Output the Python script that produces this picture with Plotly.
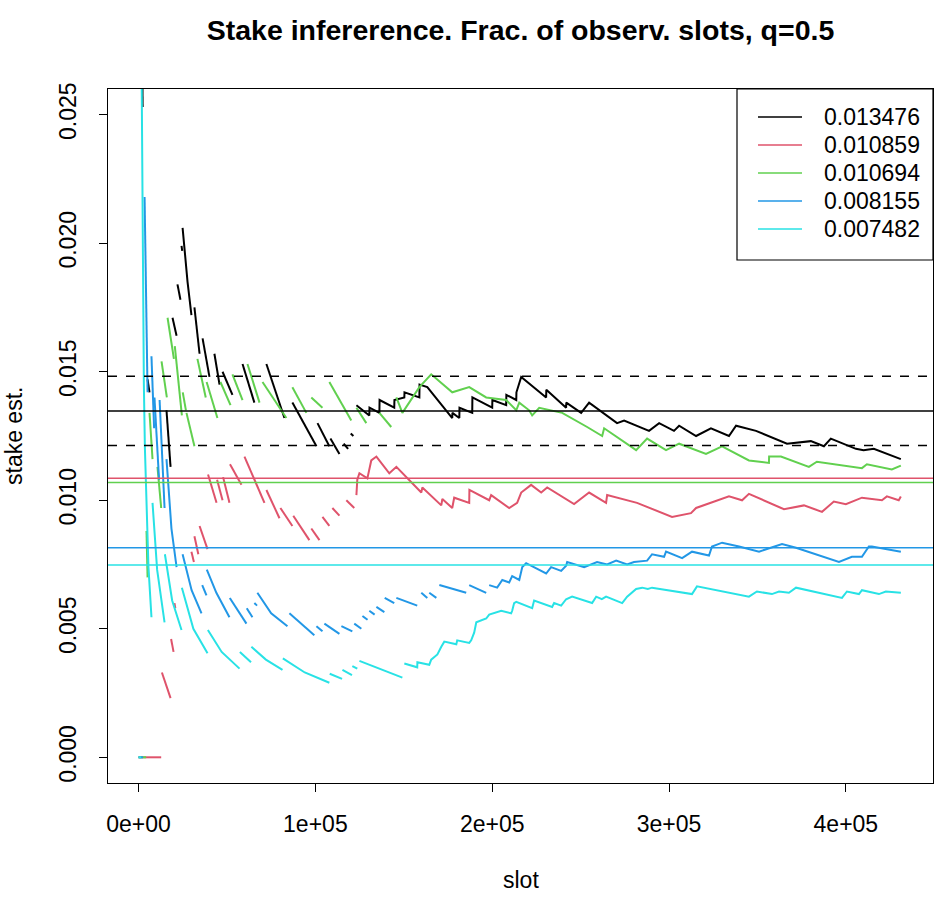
import plotly.graph_objects as go

# ---- data (x in thousands of slots, y in units of 1e-3) ----
series_names = ["0.013476", "0.010859", "0.010694", "0.008155", "0.007482"]
true_stakes = [0.013476, 0.010859, 0.010694, 0.008155, 0.007482]
series_colors = ["#000000", "#DF536B", "#61D04F", "#2297E6", "#28E2E5"]

black_segments = [
    [(2.1, 27.0), (2.3, 25.3)],
    [(5.1, 14.7), (6.2, 14.2)],
    [(15.8, 13.5), (18.1, 11.3)],
    [(19.2, 17.1), (21.5, 16.4)],
    [(22.0, 18.4), (23.7, 17.8)],
    [(24.3, 19.9), (24.7, 19.7)],
    [(24.9, 20.6), (27.7, 18.5), (29.9, 17.2)],
    [(31.6, 17.5), (34.5, 15.7)],
    [(36.2, 16.3), (40.1, 14.8)],
    [(42.9, 15.7), (45.8, 14.5)],
    [(47.5, 15.0), (53.1, 14.1)],
    [(58.8, 15.3), (65.5, 13.8)],
    [(72.3, 15.3), (82.5, 13.2)],
    [(87.0, 13.8), (100.6, 12.1)],
    [(101.2, 13.0), (107.9, 12.1)],
    [(108.5, 12.4), (113.6, 11.8)],
    [(116.0, 12.2), (118.5, 12.0)],
    [(120.0, 12.6), (121.5, 12.5)],
    [(123.2, 13.7), (130.5, 13.3), (130.6, 13.6), (136.2, 13.4), (136.3, 13.9), (144.6, 13.6),
     (144.7, 13.9), (150.3, 14.0), (150.4, 14.2), (158.8, 14.0), (158.9, 14.5), (163.3, 14.4),
     (177.4, 13.2), (177.5, 13.4), (181.4, 13.2), (181.5, 13.6), (188.7, 13.4), (188.8, 14.0),
     (200.0, 13.6), (200.1, 13.9), (207.9, 13.7), (208.0, 14.1), (213.6, 13.9), (213.7, 14.2),
     (216.4, 14.8), (230.5, 14.0), (230.6, 14.3), (241.8, 13.6), (241.9, 13.8), (250.3, 13.4),
     (254.8, 13.8), (270.6, 13.0), (274.6, 13.1), (288.7, 12.7), (294.4, 13.0), (302.8, 12.7),
     (305.7, 12.9), (315.3, 12.5), (323.7, 12.8), (333.9, 12.5), (337.9, 12.9), (349.2, 12.7),
     (366.7, 12.2), (380.2, 12.3), (387.6, 12.1), (391.5, 12.4), (405.7, 12.0), (410.0, 11.95),
     (415.8, 12.0), (431.1, 11.6)],
]

red_segments = [
    [(0.0, 0.0), (12.8, 0.0)],
    [(13.2, 3.3), (18.1, 2.3)],
    [(18.4, 4.6), (19.8, 4.1)],
    [(20.3, 6.0), (20.8, 5.8)],
    [(29.9, 8.0), (31.3, 7.6)],
    [(31.6, 8.6), (33.8, 7.9)],
    [(34.5, 9.0), (39.0, 8.1)],
    [(39.3, 11.0), (44.1, 9.9)],
    [(44.4, 10.8), (47.5, 10.0)],
    [(47.8, 10.9), (51.4, 9.9)],
    [(51.7, 11.4), (58.2, 10.6)],
    [(59.9, 11.7), (71.2, 9.9)],
    [(72.3, 10.4), (79.7, 9.3)],
    [(80.2, 9.7), (87.0, 9.0)],
    [(87.5, 9.4), (96.6, 8.45)],
    [(97.7, 8.9), (102.3, 8.45)],
    [(104.0, 9.35), (107.9, 9.0)],
    [(109.6, 9.7), (113.6, 9.4)],
    [(117.5, 10.0), (122.0, 9.7)],
    [(123.2, 10.2), (123.7, 10.8), (124.9, 11.05), (129.4, 10.85), (131.6, 11.55), (134.5, 11.7),
     (141.8, 11.05), (145.8, 11.3), (159.9, 10.3), (160.5, 10.5), (171.2, 9.8), (171.8, 10.05),
     (177.4, 9.7), (178.5, 10.1), (187.0, 9.9), (187.1, 10.4), (198.3, 10.0), (199.4, 10.2),
     (209.6, 9.7), (214.1, 9.9), (216.4, 10.3), (222.0, 10.6), (227.7, 10.3), (231.1, 10.5),
     (246.3, 9.85), (254.8, 10.3), (264.4, 9.9), (265.0, 10.2), (281.9, 9.9), (301.7, 9.35),
     (312.4, 9.5), (315.3, 9.7), (333.9, 10.15), (341.3, 10.0), (345.2, 10.25), (365.0, 9.65),
     (376.3, 9.8), (386.5, 9.55), (393.2, 9.95), (400.0, 9.85), (409.1, 10.1), (420.4, 10.0),
     (423.2, 10.15), (429.9, 10.0), (431.1, 10.15)],
]

green_segments = [
    [(0.0, 0.0), (4.3, 0.0)],
    [(4.5, 8.8), (5.1, 7.0)],
    [(6.2, 13.4), (7.9, 11.6)],
    [(10.7, 11.3), (12.8, 9.7)],
    [(13.0, 15.4), (16.0, 14.0)],
    [(16.4, 17.1), (20.0, 15.5)],
    [(20.5, 16.0), (24.5, 13.3)],
    [(25.0, 14.2), (26.8, 13.5)],
    [(27.1, 13.4), (31.6, 12.1)],
    [(33.3, 15.5), (38.0, 14.0)],
    [(38.5, 14.6), (44.6, 13.2)],
    [(46.3, 14.6), (52.0, 13.7)],
    [(53.1, 14.9), (58.8, 13.9)],
    [(61.6, 15.3), (68.4, 13.8)],
    [(70.1, 14.6), (83.6, 13.2)],
    [(87.0, 14.4), (94.9, 13.4)],
    [(97.7, 14.0), (104.0, 13.6)],
    [(107.9, 14.6), (120.3, 13.1)],
    [(123.2, 13.6), (128.8, 13.0)],
    [(136.2, 13.4), (142.9, 12.85)],
    [(145.8, 14.0), (149.2, 13.4), (158.8, 14.4), (165.5, 14.9), (177.4, 14.2), (187.0, 14.4),
     (196.6, 14.0), (207.9, 13.9), (213.6, 13.5), (215.3, 13.8), (220.9, 13.5), (222.6, 13.3),
     (226.6, 13.6), (239.6, 13.4), (253.7, 12.85), (262.2, 12.5), (263.3, 12.8), (281.4, 11.95),
     (287.6, 12.4), (298.3, 11.95), (305.7, 12.2), (320.9, 11.8), (330.0, 12.1), (345.2, 11.55),
     (356.5, 11.45), (356.6, 11.7), (363.3, 11.7), (379.1, 11.3), (383.6, 11.5), (409.1, 11.25),
     (411.9, 11.4), (426.0, 11.2), (431.1, 11.35)],
]

blue_segments = [
    [(0.0, 0.0), (2.5, 0.0)],
    [(3.4, 21.8), (4.2, 17.5), (5.1, 14.2)],
    [(7.3, 15.6), (8.8, 12.8)],
    [(9.0, 14.0), (11.6, 10.8)],
    [(11.9, 13.9), (14.7, 9.7)],
    [(15.8, 11.6), (18.6, 8.9), (21.5, 7.4)],
    [(24.9, 7.9), (30.0, 6.5), (35.6, 5.6)],
    [(36.0, 6.7), (38.4, 6.3)],
    [(38.6, 7.3), (44.0, 6.4), (51.4, 5.45)],
    [(51.6, 6.2), (61.0, 5.2)],
    [(61.2, 5.8), (64.4, 5.45)],
    [(65.5, 6.0), (67.0, 5.9)],
    [(67.2, 6.4), (75.0, 5.6), (84.2, 5.1)],
    [(85.3, 5.6), (99.4, 4.75)],
    [(100.6, 5.1), (104.0, 4.9)],
    [(105.1, 5.2), (113.6, 4.8)],
    [(114.7, 5.1), (120.9, 4.9)],
    [(122.0, 5.2), (126.0, 5.0)],
    [(126.6, 5.5), (129.5, 5.35)],
    [(130.5, 5.7), (133.5, 5.55)],
    [(134.5, 5.85), (139.0, 5.65)],
    [(139.2, 6.2), (144.6, 6.0)],
    [(145.8, 6.2), (157.6, 5.9)],
    [(159.9, 6.4), (163.3, 6.2)],
    [(164.4, 6.4), (168.4, 6.2)],
    [(170.1, 6.7), (185.3, 6.4)],
    [(187.0, 6.7), (196.6, 6.4)],
    [(198.3, 6.7), (202.8, 6.6), (205.7, 6.9), (209.6, 6.8), (211.3, 7.05), (215.3, 6.9),
     (217.0, 7.4), (219.2, 7.55), (230.5, 7.15), (233.3, 7.4), (239.0, 7.25), (241.8, 7.45),
     (242.4, 7.6), (252.0, 7.4), (259.3, 7.6), (265.0, 7.5), (270.1, 7.65), (276.3, 7.5),
     (280.2, 7.6), (287.6, 7.65), (290.4, 7.9), (297.2, 7.8), (298.3, 8.0), (307.4, 7.75),
     (313.0, 8.0), (322.6, 7.85), (324.3, 8.2), (330.0, 8.35), (339.6, 8.2), (350.9, 8.0),
     (363.9, 8.3), (371.8, 8.15), (396.1, 7.6), (403.4, 7.8), (409.1, 7.8), (413.0, 8.2),
     (414.7, 8.2), (431.1, 8.0)],
]

cyan_segments = [
    [(0.0, 0.0), (1.5, 0.0)],
    [(1.7, 27.0), (2.0, 23.0), (2.5, 18.0), (3.0, 14.5), (3.6, 12.0), (4.5, 9.5), (5.6, 7.4), (7.3, 5.45)],
    [(7.9, 9.9), (10.5, 7.3), (14.7, 5.25)],
    [(14.9, 7.9), (19.0, 6.1), (24.3, 4.95)],
    [(24.5, 6.6), (31.0, 5.0), (39.0, 4.05)],
    [(39.2, 4.95), (47.0, 4.1), (57.1, 3.45)],
    [(57.3, 4.1), (63.6, 3.7)],
    [(63.8, 4.3), (72.0, 3.8), (81.4, 3.4)],
    [(81.6, 3.85), (94.0, 3.3), (107.9, 2.9)],
    [(108.1, 3.25), (115.1, 3.05)],
    [(115.3, 3.4), (120.7, 3.2)],
    [(120.9, 3.55), (123.7, 3.45)],
    [(124.9, 3.75), (149.2, 3.1)],
    [(150.3, 3.65), (157.6, 3.5), (157.7, 3.7), (164.4, 3.6), (165.5, 3.8), (169.0, 4.0),
     (171.2, 4.3), (172.9, 4.5), (179.7, 4.4), (180.2, 4.55), (187.0, 4.45), (188.1, 4.55),
     (189.8, 4.85), (191.0, 5.25), (196.6, 5.4), (198.3, 5.55), (205.1, 5.7), (210.7, 5.6),
     (211.3, 5.7), (212.4, 6.0), (213.6, 6.05), (222.6, 5.8), (223.7, 6.1), (233.9, 5.85),
     (235.0, 6.0), (239.0, 5.9), (241.8, 6.15), (245.2, 6.25), (256.5, 6.0), (258.8, 6.25),
     (262.0, 6.15), (264.4, 6.25), (273.5, 6.0), (276.3, 6.25), (281.4, 6.55), (284.8, 6.6),
     (288.0, 6.55), (290.4, 6.6), (313.0, 6.35), (315.8, 6.65), (345.2, 6.25), (349.7, 6.45),
     (358.2, 6.35), (362.2, 6.45), (367.8, 6.4), (371.8, 6.6), (397.8, 6.2), (400.6, 6.45),
     (407.4, 6.35), (409.1, 6.5), (418.7, 6.35), (422.6, 6.45), (431.1, 6.4)],
]

x_tick_vals = [0, 100000, 200000, 300000, 400000]
x_tick_text = ["0e+00", "1e+05", "2e+05", "3e+05", "4e+05"]
y_tick_vals = [0.000, 0.005, 0.010, 0.015, 0.020, 0.025]
y_tick_text = ["0.000", "0.005", "0.010", "0.015", "0.020", "0.025"]

all_segments = [black_segments, red_segments, green_segments, blue_segments, cyan_segments]

# ---- layout geometry (pixels) ----
W, H = 951, 908
ML, MR, MT, MB = 108, 18, 89, 125
PW, PH = W - ML - MR, H - MT - MB
FONT = "Liberation Sans, Arial, Helvetica, sans-serif"


def px_x(px):
    return (px - ML) / PW


def px_y(py):
    return (H - MB - py) / PH


fig = go.Figure()

for segs, name, col in zip(all_segments, series_names, series_colors):
    xs, ys = [], []
    for seg in segs:
        for (xk, ym) in seg:
            xs.append(xk * 1000.0)
            ys.append(ym / 1000.0)
        xs.append(None)
        ys.append(None)
    fig.add_trace(go.Scatter(x=xs, y=ys, mode="lines", name=name,
                             line=dict(color=col, width=2), showlegend=False,
                             connectgaps=False, hoverinfo="skip"))

shapes = []
for s, col in zip(true_stakes, series_colors):
    shapes.append(dict(type="line", xref="paper", yref="y", x0=0, x1=1, y0=s, y1=s,
                       line=dict(color=col, width=1.5)))
for f in (1.1, 0.9):
    shapes.append(dict(type="line", xref="paper", yref="y", x0=0, x1=1,
                       y0=true_stakes[0] * f, y1=true_stakes[0] * f,
                       line=dict(color="#000000", width=1.5, dash="dash")))

# manual legend (R style, top-right)
shapes.append(dict(type="rect", xref="paper", yref="paper",
                   x0=px_x(737), x1=1, y0=px_y(260), y1=1,
                   line=dict(color="#000000", width=1.2), fillcolor="white"))
annotations = []
for i, (name, col) in enumerate(zip(series_names, series_colors)):
    yy = px_y(117 + 28 * i)
    shapes.append(dict(type="line", xref="paper", yref="paper",
                       x0=px_x(758), x1=px_x(802), y0=yy, y1=yy,
                       line=dict(color=col, width=1.5)))
    annotations.append(dict(xref="paper", yref="paper", x=px_x(822), y=yy,
                            text=name, showarrow=False, xanchor="left", yanchor="middle",
                            font=dict(family=FONT, size=23, color="#000000")))

annotations.append(dict(xref="paper", yref="paper", x=0.5, y=px_y(880), text="slot",
                        showarrow=False, xanchor="center", yanchor="middle",
                        font=dict(family=FONT, size=23, color="#000000")))
annotations.append(dict(xref="paper", yref="paper", x=px_x(14), y=0.5, text="stake est.",
                        showarrow=False, xanchor="center", yanchor="middle", textangle=-90,
                        font=dict(family=FONT, size=23, color="#000000")))

fig.update_layout(
    width=W, height=H,
    margin=dict(l=ML, r=MR, t=MT, b=MB),
    paper_bgcolor="white", plot_bgcolor="white",
    title=dict(text="<b>Stake infererence. Frac. of observ. slots, q=0.5</b>",
               x=0.5, xref="paper", xanchor="center",
               y=1 - 30 / H, yref="container", yanchor="middle",
               font=dict(family=FONT, size=28.5, color="#000000")),
    shapes=shapes, annotations=annotations, showlegend=False,
    xaxis=dict(range=[-17280, 449280], tickvals=x_tick_vals, ticktext=x_tick_text,
               showgrid=False, zeroline=False, showline=True, mirror=True,
               linecolor="#000000", linewidth=1.2, ticks="outside", ticklen=8,
               tickcolor="#000000", tickwidth=1.2, ticklabelstandoff=12,
               tickfont=dict(family=FONT, size=23, color="#000000")),
    yaxis=dict(range=[-0.001, 0.026], tickvals=y_tick_vals, ticktext=y_tick_text,
               tickangle=-90, showgrid=False, zeroline=False, showline=True, mirror=True,
               linecolor="#000000", linewidth=1.2, ticks="outside", ticklen=8,
               tickcolor="#000000", tickwidth=1.2, ticklabelstandoff=14,
               tickfont=dict(family=FONT, size=23, color="#000000")),
)

fig.write_html("out.html")
